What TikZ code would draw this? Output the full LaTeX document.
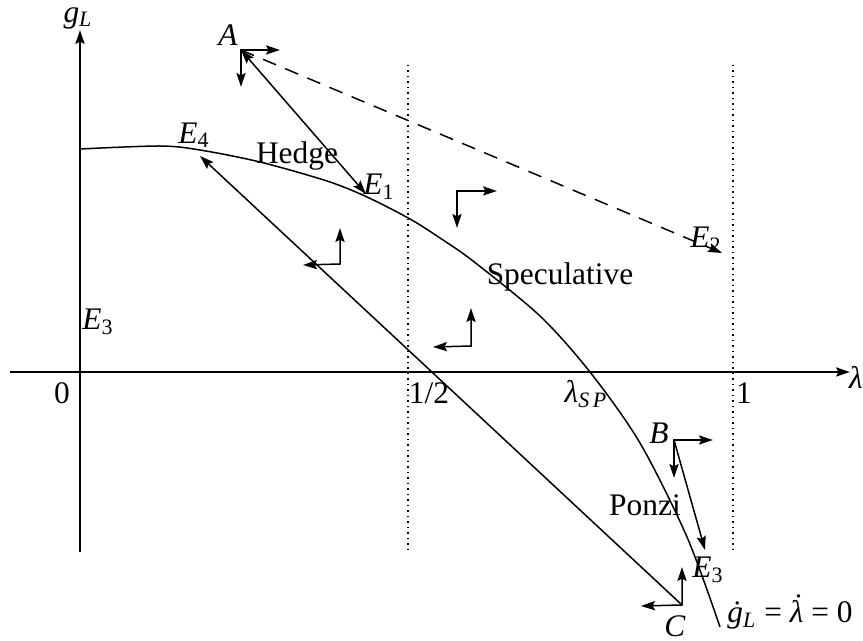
\documentclass[tikz,border=0pt]{standalone}
\usepackage{fontspec}
\setmainfont{Liberation Serif}
\usetikzlibrary{arrows.meta}
\newcommand{\var}[2]{\textit{#1}\textsubscript{#2}}
\newcommand{\dotlam}{\textit{\ooalign{λ\cr\hidewidth\raisebox{0.22em}{˙}\hidewidth\cr}}}

\begin{document}
\begin{tikzpicture}[x=0.5pt, y=-0.5pt, line width=0.75pt,
	every node/.style={font=\fontsize{15.7}{18}\selectfont, inner sep=1pt},
	>={Stealth[length=7pt,width=4.6pt,inset=1.2pt]}]
	\useasboundingbox (0,0) rectangle (863,641);
	% axes
	\coordinate (ybot) at (80,552); \coordinate (ytop) at (80,30);
	\coordinate (xleft) at (10,372); \coordinate (xright) at (850,372);
	\draw[->] (ybot) -- (ytop);
	\draw[->] (xleft) -- (xright);
	\node (gL) at (78,18) {\var{g}{\textit{L}}};
	\node (lam) at (856,377) {\textit{λ}};
	\node (zero) at (62,393) {0};
	% dotted lines at 1/2 and 1
	\coordinate (halftop) at (408,65); \coordinate (halfbot) at (408,552);
	\coordinate (onetop) at (733,65); \coordinate (onebot) at (733,552);
	\draw[dotted] (halftop) -- (halfbot);
	\draw[dotted] (onetop) -- (onebot);
	\node (half) at (429,393) {1/2};
	\node (one) at (744,393) {1};
	\node (lamSP) at (586,394) {\var{λ}{\textit{S\,P}}};
	% locus
	\draw plot[smooth] coordinates {(80,149) (160,146) (200,150) (260,162) (327,181) (367,197) (410,219) (440,238) (473,261) (540,316) (590,372) (640,443) (687,537) (720,627)};
	\node (locus) at (790,615) {\var{\.{g}}{\textit{L}} = \dotlam{} = 0};
	% points and trajectories
	\coordinate (A) at (241,50);
	\coordinate (B) at (674,440);
	\coordinate (C) at (682,605);
	\coordinate (E1) at (366,194);
	\coordinate (E2) at (722,253);
	\coordinate (E3) at (705,550);
	\coordinate (E4) at (200,156);
	\draw[<->] (A) -- (E1);
	\draw[->, dash pattern=on 7pt off 5pt] (A) -- (E2);
	\draw[->] (B) -- (E3);
	\draw[->] (C) -- (E4);
	\node (Alab) at (228,35) {\textit{A}};
	\node (Blab) at (659,433) {\textit{B}};
	\node (Clab) at (675,626) {\textit{C}};
	\node (E1lab) at (379,187) {\var{E}{1}};
	\node (E2lab) at (706,240) {\var{E}{2}};
	\node (E3lab) at (708,570) {\var{E}{3}};
	\node (E3left) at (98,322) {\var{E}{3}};
	\node (E4lab) at (194,135) {\var{E}{4}};
	% regions
	\node (hedge) at (297,156) {Hedge};
	\node (spec) at (560,277) {Speculative};
	\node (ponzi) at (645,505) {Ponzi};
	% direction arrows
	\draw[<->] (280,50) -- (A) -- (241,87);
	\draw[<->] (713,440) -- (B) -- (674,478);
	\draw[<->] (682,567) -- (C) -- (641,606);
	\coordinate (p1) at (340,264);
	\coordinate (p2) at (457,191);
	\coordinate (p3) at (471,346);
	\draw[<->] (340,228) -- (p1) -- (303,265);
	\draw[<->] (497,191) -- (p2) -- (457,228);
	\draw[<->] (471,308) -- (p3) -- (433,347);
\end{tikzpicture}
\end{document}
